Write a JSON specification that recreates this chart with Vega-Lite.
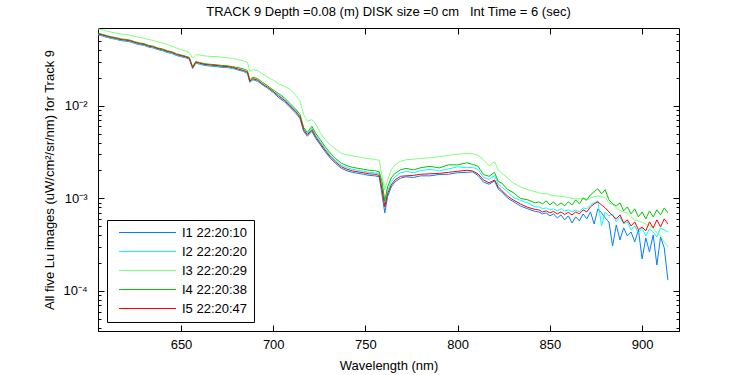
{
  "$schema": "https://vega.github.io/schema/vega-lite/v6.json",
  "width": 581,
  "height": 303,
  "autosize": {"type": "none"},
  "padding": {"left": 98, "top": 28, "right": 71, "bottom": 44},
  "background": "white",
  "config": {
    "font": "Liberation Sans",
    "view": {"stroke": "black", "strokeWidth": 1},
    "axis": {"grid": false, "domainColor": "black", "tickColor": "black", "labelColor": "black", "titleColor": "black", "labelFontSize": 13, "titleFontSize": 13, "titleFontWeight": "normal", "labelFont": "Liberation Sans", "titleFont": "Liberation Sans", "labelFlush": false, "labelOverlap": false}
  },
  "title": {"text": "TRACK 9 Depth =0.08 (m) DISK size =0 cm\u00a0\u00a0\u00a0Int Time = 6 (sec)", "fontSize": 13, "fontWeight": "normal", "color": "black", "font": "Liberation Sans", "anchor": "middle", "offset": 8},
  "data": {"values": [
    {"w":605,"I1":0.0581,"I2":0.0589,"I3":0.0675,"I4":0.0607,"I5":0.0596},
    {"w":607.5,"I1":0.0565,"I2":0.0572,"I3":0.0658,"I4":0.0589,"I5":0.0579},
    {"w":610,"I1":0.0546,"I2":0.0553,"I3":0.0639,"I4":0.0570,"I5":0.0560},
    {"w":612.5,"I1":0.0531,"I2":0.0537,"I3":0.0619,"I4":0.0554,"I5":0.0544},
    {"w":615,"I1":0.0520,"I2":0.0526,"I3":0.0608,"I4":0.0542,"I5":0.0533},
    {"w":617.5,"I1":0.0504,"I2":0.0511,"I3":0.0593,"I4":0.0526,"I5":0.0517},
    {"w":620,"I1":0.0498,"I2":0.0505,"I3":0.0586,"I4":0.0520,"I5":0.0511},
    {"w":622.5,"I1":0.0489,"I2":0.0495,"I3":0.0579,"I4":0.0510,"I5":0.0501},
    {"w":625,"I1":0.0470,"I2":0.0476,"I3":0.0560,"I4":0.0490,"I5":0.0482},
    {"w":627.5,"I1":0.0456,"I2":0.0462,"I3":0.0546,"I4":0.0476,"I5":0.0468},
    {"w":630,"I1":0.0448,"I2":0.0453,"I3":0.0537,"I4":0.0467,"I5":0.0459},
    {"w":632.5,"I1":0.0429,"I2":0.0435,"I3":0.0517,"I4":0.0448,"I5":0.0440},
    {"w":635,"I1":0.0420,"I2":0.0426,"I3":0.0507,"I4":0.0439,"I5":0.0431},
    {"w":637.5,"I1":0.0403,"I2":0.0408,"I3":0.0488,"I4":0.0420,"I5":0.0413},
    {"w":640,"I1":0.0393,"I2":0.0398,"I3":0.0476,"I4":0.0410,"I5":0.0403},
    {"w":642.5,"I1":0.0376,"I2":0.0381,"I3":0.0457,"I4":0.0393,"I5":0.0386},
    {"w":645,"I1":0.0367,"I2":0.0371,"I3":0.0440,"I4":0.0383,"I5":0.0376},
    {"w":647.5,"I1":0.0349,"I2":0.0354,"I3":0.0419,"I4":0.0364,"I5":0.0358},
    {"w":650,"I1":0.0338,"I2":0.0343,"I3":0.0403,"I4":0.0353,"I5":0.0347},
    {"w":652.5,"I1":0.0329,"I2":0.0333,"I3":0.0388,"I4":0.0343,"I5":0.0337},
    {"w":654.5,"I1":0.0318,"I2":0.0322,"I3":0.0374,"I4":0.0332,"I5":0.0326},
    {"w":656.3,"I1":0.0252,"I2":0.0255,"I3":0.0326,"I4":0.0263,"I5":0.0258},
    {"w":658,"I1":0.0288,"I2":0.0291,"I3":0.0356,"I4":0.0300,"I5":0.0295},
    {"w":660,"I1":0.0281,"I2":0.0284,"I3":0.0352,"I4":0.0293,"I5":0.0288},
    {"w":663,"I1":0.0272,"I2":0.0276,"I3":0.0345,"I4":0.0284,"I5":0.0279},
    {"w":666,"I1":0.0268,"I2":0.0272,"I3":0.0340,"I4":0.0280,"I5":0.0275},
    {"w":669,"I1":0.0265,"I2":0.0269,"I3":0.0339,"I4":0.0277,"I5":0.0272},
    {"w":672,"I1":0.0260,"I2":0.0264,"I3":0.0334,"I4":0.0272,"I5":0.0267},
    {"w":675,"I1":0.0258,"I2":0.0262,"I3":0.0330,"I4":0.0270,"I5":0.0265},
    {"w":678,"I1":0.0253,"I2":0.0256,"I3":0.0324,"I4":0.0264,"I5":0.0259},
    {"w":681,"I1":0.0243,"I2":0.0246,"I3":0.0314,"I4":0.0258,"I5":0.0249},
    {"w":684,"I1":0.0234,"I2":0.0237,"I3":0.0304,"I4":0.0249,"I5":0.0240},
    {"w":686,"I1":0.0224,"I2":0.0227,"I3":0.0295,"I4":0.0239,"I5":0.0230},
    {"w":687.3,"I1":0.0179,"I2":0.0182,"I3":0.0236,"I4":0.0191,"I5":0.0184},
    {"w":689,"I1":0.0191,"I2":0.0194,"I3":0.0245,"I4":0.0203,"I5":0.0196},
    {"w":691.5,"I1":0.0184,"I2":0.0187,"I3":0.0239,"I4":0.0196,"I5":0.0189},
    {"w":694,"I1":0.0169,"I2":0.0171,"I3":0.0222,"I4":0.0180,"I5":0.0173},
    {"w":697,"I1":0.0154,"I2":0.0156,"I3":0.0203,"I4":0.0164,"I5":0.0158},
    {"w":700,"I1":0.0139,"I2":0.0141,"I3":0.0189,"I4":0.0148,"I5":0.0143},
    {"w":703,"I1":0.0122,"I2":0.0130,"I3":0.0172,"I4":0.0135,"I5":0.0127},
    {"w":706,"I1":0.0111,"I2":0.0117,"I3":0.0162,"I4":0.0122,"I5":0.0115},
    {"w":709,"I1":0.00963,"I2":0.0102,"I3":0.0151,"I4":0.0106,"I5":0.0100},
    {"w":712,"I1":0.00840,"I2":0.00889,"I3":0.0131,"I4":0.00924,"I5":0.00872},
    {"w":714.5,"I1":0.00732,"I2":0.00775,"I3":0.0113,"I4":0.00806,"I5":0.00760},
    {"w":716.5,"I1":0.00530,"I2":0.00561,"I3":0.00799,"I4":0.00583,"I5":0.00550},
    {"w":718.5,"I1":0.00468,"I2":0.00496,"I3":0.00680,"I4":0.00515,"I5":0.00486},
    {"w":721,"I1":0.00530,"I2":0.00571,"I3":0.00706,"I4":0.00600,"I5":0.00550},
    {"w":723,"I1":0.00445,"I2":0.00480,"I3":0.00639,"I4":0.00504,"I5":0.00462},
    {"w":725.5,"I1":0.00379,"I2":0.00408,"I3":0.00511,"I4":0.00429,"I5":0.00393},
    {"w":728,"I1":0.00322,"I2":0.00347,"I3":0.00434,"I4":0.00364,"I5":0.00334},
    {"w":731,"I1":0.00271,"I2":0.00292,"I3":0.00374,"I4":0.00307,"I5":0.00281},
    {"w":734,"I1":0.00236,"I2":0.00254,"I3":0.00339,"I4":0.00267,"I5":0.00245},
    {"w":737,"I1":0.00211,"I2":0.00227,"I3":0.00306,"I4":0.00239,"I5":0.00219},
    {"w":740,"I1":0.00198,"I2":0.00214,"I3":0.00295,"I4":0.00225,"I5":0.00206},
    {"w":743,"I1":0.00191,"I2":0.00206,"I3":0.00288,"I4":0.00216,"I5":0.00198},
    {"w":746,"I1":0.00186,"I2":0.00200,"I3":0.00281,"I4":0.00211,"I5":0.00193},
    {"w":749,"I1":0.00182,"I2":0.00196,"I3":0.00274,"I4":0.00206,"I5":0.00189},
    {"w":752,"I1":0.00177,"I2":0.00191,"I3":0.00267,"I4":0.00201,"I5":0.00184},
    {"w":755,"I1":0.00175,"I2":0.00189,"I3":0.00264,"I4":0.00199,"I5":0.00182},
    {"w":757.5,"I1":0.00171,"I2":0.00184,"I3":0.00257,"I4":0.00193,"I5":0.00177},
    {"w":759,"I1":0.00109,"I2":0.00137,"I3":0.00173,"I4":0.00151,"I5":0.00124},
    {"w":760.5,"I1":0.000697,"I2":0.000850,"I3":0.00124,"I4":0.000939,"I5":0.000809},
    {"w":762,"I1":0.00104,"I2":0.00121,"I3":0.00158,"I4":0.00133,"I5":0.00112},
    {"w":764,"I1":0.00133,"I2":0.00151,"I3":0.00203,"I4":0.00167,"I5":0.00140},
    {"w":766,"I1":0.00151,"I2":0.00171,"I3":0.00230,"I4":0.00186,"I5":0.00158},
    {"w":769,"I1":0.00165,"I2":0.00189,"I3":0.00251,"I4":0.00203,"I5":0.00173},
    {"w":772,"I1":0.00171,"I2":0.00195,"I3":0.00261,"I4":0.00211,"I5":0.00175},
    {"w":776,"I1":0.00168,"I2":0.00189,"I3":0.00264,"I4":0.00203,"I5":0.00177},
    {"w":780,"I1":0.00175,"I2":0.00199,"I3":0.00271,"I4":0.00214,"I5":0.00182},
    {"w":785,"I1":0.00175,"I2":0.00206,"I3":0.00274,"I4":0.00222,"I5":0.00184},
    {"w":790,"I1":0.00181,"I2":0.00198,"I3":0.00281,"I4":0.00213,"I5":0.00186},
    {"w":795,"I1":0.00182,"I2":0.00208,"I3":0.00292,"I4":0.00230,"I5":0.00191},
    {"w":800,"I1":0.00189,"I2":0.00219,"I3":0.00299,"I4":0.00230,"I5":0.00196},
    {"w":805,"I1":0.00191,"I2":0.00214,"I3":0.00306,"I4":0.00242,"I5":0.00201},
    {"w":808,"I1":0.00193,"I2":0.00216,"I3":0.00303,"I4":0.00233,"I5":0.00198},
    {"w":811,"I1":0.00177,"I2":0.00206,"I3":0.00292,"I4":0.00222,"I5":0.00184},
    {"w":814,"I1":0.00150,"I2":0.00168,"I3":0.00261,"I4":0.00181,"I5":0.00158},
    {"w":817,"I1":0.00142,"I2":0.00160,"I3":0.00225,"I4":0.00173,"I5":0.00147},
    {"w":820,"I1":0.00154,"I2":0.00176,"I3":0.00248,"I4":0.00191,"I5":0.00158},
    {"w":822,"I1":0.00126,"I2":0.00142,"I3":0.00203,"I4":0.00152,"I5":0.00133},
    {"w":824,"I1":0.00117,"I2":0.00132,"I3":0.00186,"I4":0.00146,"I5":0.00121},
    {"w":827,"I1":0.00101,"I2":0.00118,"I3":0.00167,"I4":0.00125,"I5":0.00106},
    {"w":830,"I1":0.000927,"I2":0.00103,"I3":0.00147,"I4":0.00116,"I5":0.000963},
    {"w":834,"I1":0.000829,"I2":0.000951,"I3":0.00133,"I4":0.000998,"I5":0.000872},
    {"w":838,"I1":0.000770,"I2":0.000892,"I3":0.00124,"I4":0.000964,"I5":0.000799},
    {"w":842,"I1":0.000723,"I2":0.000809,"I3":0.00118,"I4":0.000894,"I5":0.000760},
    {"w":844,"I1":0.000714,"I2":0.000809,"I3":0.00115,"I4":0.000916,"I5":0.000751},
    {"w":846,"I1":0.000680,"I2":0.000770,"I3":0.00112,"I4":0.000872,"I5":0.000714},
    {"w":848,"I1":0.000697,"I2":0.000789,"I3":0.00113,"I4":0.000939,"I5":0.000732},
    {"w":850,"I1":0.000647,"I2":0.000751,"I3":0.00109,"I4":0.000850,"I5":0.000697},
    {"w":852,"I1":0.000680,"I2":0.000770,"I3":0.00108,"I4":0.000916,"I5":0.000723},
    {"w":854,"I1":0.000615,"I2":0.000732,"I3":0.00106,"I4":0.000830,"I5":0.000680},
    {"w":856,"I1":0.000663,"I2":0.000770,"I3":0.00105,"I4":0.000894,"I5":0.000714},
    {"w":858,"I1":0.000585,"I2":0.000732,"I3":0.00104,"I4":0.000830,"I5":0.000671},
    {"w":860,"I1":0.000647,"I2":0.000751,"I3":0.00102,"I4":0.000916,"I5":0.000706},
    {"w":862,"I1":0.000543,"I2":0.000714,"I3":0.00100,"I4":0.000850,"I5":0.000663},
    {"w":864,"I1":0.000631,"I2":0.000751,"I3":0.000987,"I4":0.000963,"I5":0.000714},
    {"w":866,"I1":0.000571,"I2":0.000714,"I3":0.000990,"I4":0.000872,"I5":0.000680},
    {"w":868,"I1":0.000680,"I2":0.000789,"I3":0.000987,"I4":0.00101,"I5":0.000751},
    {"w":870,"I1":0.000600,"I2":0.000770,"I3":0.000950,"I4":0.000963,"I5":0.000714},
    {"w":872,"I1":0.000714,"I2":0.000850,"I3":0.00101,"I4":0.00109,"I5":0.000809},
    {"w":874,"I1":0.000530,"I2":0.000894,"I3":0.00104,"I4":0.00118,"I5":0.000872},
    {"w":876,"I1":0.000770,"I2":0.000939,"I3":0.00106,"I4":0.00127,"I5":0.000916},
    {"w":878,"I1":0.000697,"I2":0.000504,"I3":0.00104,"I4":0.00112,"I5":0.000850},
    {"w":880,"I1":0.000615,"I2":0.000714,"I3":0.00102,"I4":0.00124,"I5":0.000789},
    {"w":882,"I1":0.000557,"I2":0.000647,"I3":0.000894,"I4":0.000963,"I5":0.000714},
    {"w":884,"I1":0.000307,"I2":0.000680,"I3":0.000860,"I4":0.000872,"I5":0.000647},
    {"w":886,"I1":0.000517,"I2":0.000557,"I3":0.000789,"I4":0.000830,"I5":0.000600},
    {"w":888,"I1":0.000356,"I2":0.000631,"I3":0.000740,"I4":0.000894,"I5":0.000663},
    {"w":890,"I1":0.000480,"I2":0.000530,"I3":0.000714,"I4":0.000732,"I5":0.000543},
    {"w":892,"I1":0.000393,"I2":0.000557,"I3":0.000700,"I4":0.000809,"I5":0.000585},
    {"w":894,"I1":0.000434,"I2":0.000457,"I3":0.000631,"I4":0.000680,"I5":0.000504},
    {"w":896,"I1":0.000339,"I2":0.000504,"I3":0.000580,"I4":0.000770,"I5":0.000557},
    {"w":898,"I1":0.000457,"I2":0.000424,"I3":0.000571,"I4":0.000631,"I5":0.000457},
    {"w":900,"I1":0.000222,"I2":0.000480,"I3":0.000550,"I4":0.000714,"I5":0.000492},
    {"w":902,"I1":0.000374,"I2":0.000393,"I3":0.000530,"I4":0.000600,"I5":0.000445},
    {"w":904,"I1":0.000264,"I2":0.000468,"I3":0.000500,"I4":0.000732,"I5":0.000557},
    {"w":906,"I1":0.000403,"I2":0.000434,"I3":0.000480,"I4":0.000631,"I5":0.000480},
    {"w":908,"I1":0.000191,"I2":0.000383,"I3":0.000424,"I4":0.000751,"I5":0.000585},
    {"w":910,"I1":0.000383,"I2":0.000480,"I3":0.000393,"I4":0.000663,"I5":0.000492},
    {"w":912,"I1":0.000292,"I2":0.000457,"I3":0.000339,"I4":0.000789,"I5":0.000600},
    {"w":914,"I1":0.000131,"I2":0.000434,"I3":0.000299,"I4":0.000697,"I5":0.000530}
  ]},
  "layer": [
    {
      "transform": [{"fold": ["I1", "I2", "I3", "I4", "I5"], "as": ["series", "value"]}],
      "mark": {"type": "line", "strokeWidth": 1},
      "encoding": {
        "x": {"field": "w", "type": "quantitative",
          "scale": {"domain": [605, 920], "nice": false, "zero": false},
          "axis": {"title": "Wavelength (nm)", "values": [650, 700, 750, 800, 850, 900], "tickSize": -6, "labelPadding": 13, "titlePadding": 8}},
        "y": {"field": "value", "type": "quantitative",
          "scale": {"type": "log", "domain": [0.000037, 0.069], "nice": false},
          "axis": {"title": "All five Lu images (uW/cm\u00b2/sr/nm) for Track 9",
            "values": [0.00004, 0.00005, 0.00006, 0.00007, 0.00008, 0.00009, 0.0001, 0.0002, 0.0003, 0.0004, 0.0005, 0.0006, 0.0007, 0.0008, 0.0009, 0.001, 0.002, 0.003, 0.004, 0.005, 0.006, 0.007, 0.008, 0.009, 0.01, 0.02, 0.03, 0.04, 0.05, 0.06],
            "tickSize": {"condition": {"test": "indexof([0.0001, 0.001, 0.01], datum.value) >= 0", "value": -6}, "value": -3},
            "labelExpr": "datum.value == 0.01 ? '10\u207b\u00b2' : datum.value == 0.001 ? '10\u207b\u00b3' : datum.value == 0.0001 ? '10\u207b\u2074' : ''",
            "labelPadding": 17, "titlePadding": 6}},
        "color": {"field": "series", "type": "nominal",
          "scale": {"domain": ["I1", "I2", "I3", "I4", "I5"], "range": ["#0080ff", "#00ffff", "#80ff80", "#00c800", "#ff0000"]},
          "legend": {"title": null, "orient": "bottom-left", "offset": 9, "fillColor": "white", "strokeColor": "black", "padding": 6,
            "symbolType": "M-5,0H5", "symbolSize": 130, "symbolStrokeWidth": 1, "symbolOffset": 28, "labelOffset": 28, "rowPadding": 5,
            "labelFontSize": 13, "labelColor": "black", "labelFont": "Liberation Sans",
            "labelExpr": "datum.label == 'I1' ? 'I1 22:20:10' : datum.label == 'I2' ? 'I2 22:20:20' : datum.label == 'I3' ? 'I3 22:20:29' : datum.label == 'I4' ? 'I4 22:20:38' : 'I5 22:20:47'"}}
      }
    },
    {
      "mark": {"type": "point", "opacity": 0},
      "encoding": {
        "x": {"field": "w", "type": "quantitative", "axis": {"orient": "top", "title": null, "labels": false, "domain": false, "values": [650, 700, 750, 800, 850, 900], "tickSize": -6}},
        "y": {"field": "I5", "type": "quantitative", "axis": {"orient": "right", "title": null, "labels": false, "domain": false,
          "values": [0.00004, 0.00005, 0.00006, 0.00007, 0.00008, 0.00009, 0.0001, 0.0002, 0.0003, 0.0004, 0.0005, 0.0006, 0.0007, 0.0008, 0.0009, 0.001, 0.002, 0.003, 0.004, 0.005, 0.006, 0.007, 0.008, 0.009, 0.01, 0.02, 0.03, 0.04, 0.05, 0.06],
          "tickSize": {"condition": {"test": "indexof([0.0001, 0.001, 0.01], datum.value) >= 0", "value": -6}, "value": -3}}}
      }
    }
  ],
  "resolve": {"axis": {"x": "independent", "y": "independent"}}
}
